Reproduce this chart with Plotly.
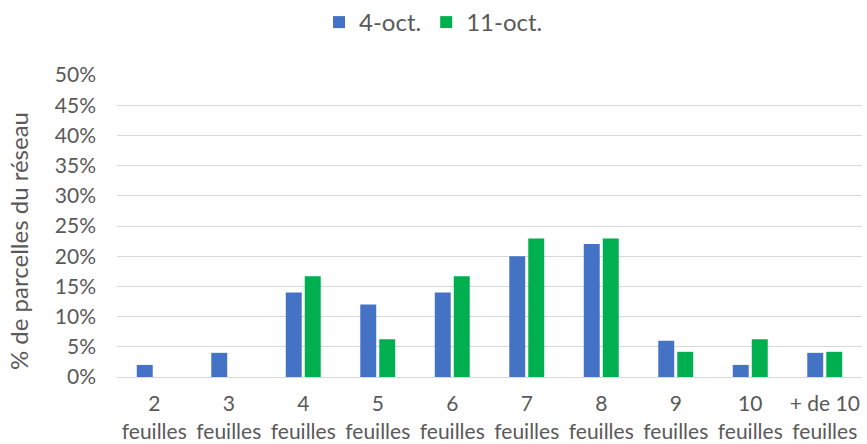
import plotly.graph_objects as go

categories = ["2<br>feuilles", "3<br>feuilles", "4<br>feuilles", "5<br>feuilles", "6<br>feuilles",
              "7<br>feuilles", "8<br>feuilles", "9<br>feuilles", "10<br>feuilles", "+ de 10<br>feuilles"]
oct4 = [0.02, 0.04, 0.14, 0.12, 0.14, 0.20, 0.22, 0.06, 0.02, 0.04]
oct11 = [0.0, 0.0, 0.1667, 0.0625, 0.1667, 0.2292, 0.2292, 0.0417, 0.0625, 0.0417]
tick_vals = [i * 0.05 for i in range(11)]
tick_text = [f"{i*5}%" for i in range(11)]
y_title = "% de parcelles du réseau"

font_family = "Lato, Open Sans, sans-serif"
txt = "#595959"

fig = go.Figure()
fig.add_trace(go.Bar(x=categories, y=oct4, name="4-oct.", marker=dict(color="#4472C4", line=dict(width=0))))
fig.add_trace(go.Bar(x=categories, y=oct11, name="11-oct.", marker=dict(color="#00B050", line=dict(width=0))))

fig.update_layout(
    width=867, height=444,
    margin=dict(l=117, r=5, t=75, b=67),
    paper_bgcolor="white", plot_bgcolor="white",
    barmode="group", bargap=0.49, bargroupgap=0.16,
    font=dict(family=font_family, color=txt, size=21),
    legend=dict(orientation="h", xref="container", x=0.5, xanchor="center",
                yref="container", y=1.0, yanchor="top",
                font=dict(size=24, color=txt), itemwidth=30, traceorder="normal"),
    showlegend=True,
)
fig.update_yaxes(range=[0, 0.5], tickvals=tick_vals, ticktext=tick_text, automargin=False,
                 showgrid=True, gridcolor="#d9d9d9", gridwidth=1.3, zeroline=False,
                 showline=False, ticks="", ticklen=0, ticklabelstandoff=20,
                 tickfont=dict(size=21, color=txt))
fig.update_xaxes(showline=True, linecolor="#d9d9d9", linewidth=1.3, ticks="", automargin=False,
                 ticklabelstandoff=8, tickfont=dict(size=21, color=txt))
fig.add_annotation(text=y_title, xref="paper", yref="paper", x=-0.133, y=0.45,
                   textangle=-90, showarrow=False, xanchor="center", yanchor="middle",
                   font=dict(size=24, color=txt))

fig.write_html("out.html", config={"displayModeBar": False},
               post_script="document.body.style.margin='0px';")
